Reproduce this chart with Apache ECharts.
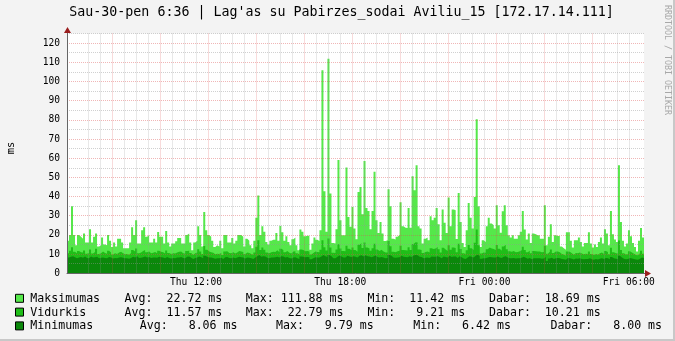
<!DOCTYPE html>
<html>
<head>
<meta charset="utf-8">
<script src="https://cdn.jsdelivr.net/npm/echarts@6/dist/echarts.min.js"></script>
<style>
html,body{margin:0;padding:0;background:#F3F3F3;}
#c{width:675px;height:341px;}
</style>
</head>
<body>
<div id="c"></div>
<script>
// ---- data ----
const titleText = "Sau-30-pen 6:36 | Lag'as su Pabirzes_sodai Aviliu_15 [172.17.14.111]";
const yAxisName = "ms";
const watermark = "RRDTOOL / TOBI OETIKER";
// time in minutes from Thu 00:00, 5-minute steps
const startMinute = 398;
const stepMinute = 5;
const xLabelValues = [720, 1080, 1440, 1800];
const xLabelTexts = ["Thu 12:00", "Thu 18:00", "Fri 00:00", "Fri 06:00"];
const yLabelValues = [0, 10, 20, 30, 40, 50, 60, 70, 80, 90, 100, 110, 120];

const maksimumas = [
  17, 20, 35, 20, 14.6, 20, 19, 18, 20.7, 16, 16, 23, 16, 19, 20.7, 14, 14.6, 18.6, 15, 14.6,
  20, 17, 13.7, 16, 14, 18, 18, 16, 13, 13, 13, 16, 24, 20, 27.6, 15.5, 15.5, 22.4, 24, 19,
  20, 16, 16, 18, 16, 21.5, 19, 19, 15.5,
  22, 16, 14, 15.5, 15.5, 16.7, 18.4, 18.4, 15.5, 15.5, 20, 20.7, 16, 12, 16, 17, 24.5, 20, 14, 32,
  22.4, 20, 19, 17, 13.7, 14.6, 14, 17, 13, 20, 20, 16, 16, 18.4, 15.5, 17, 20, 20, 19, 14,
  18, 17, 14.6, 13, 17, 29, 40.5, 20, 24.5,
  21.6, 16.3, 15, 17, 17.5, 17.5, 21, 17, 24.7, 21.4, 17, 19.3, 16.3, 14.6, 17.7, 18.6, 14.6, 12, 22.8, 21.6,
  19.3, 19.6, 19.6, 12.3, 15.5, 18.6, 17.5, 16.9, 22.4, 105.9, 42.8, 21.6, 111.88, 41.6, 15.8, 15.5, 23, 59, 27.7, 19.8,
  19.8, 55.1, 29.4, 24.2, 34.6, 23.3, 17.7, 42.4, 45,
  30.8, 58.6, 34, 32.5, 23, 32.5, 52.9, 27.6, 21, 26.8, 20.7, 16.9, 17.2, 43.8, 35, 18, 17.6, 19, 20, 37,
  24.5, 23.8, 23.6, 34, 23.8, 50.6, 43.3, 56.3, 24.5, 23.3, 15.5, 18, 18.6, 17.2, 29.7, 27.6, 28.9, 34, 25.6, 17.2,
  33.2, 26.3, 21, 39.5, 24.5, 33.2, 32.9, 17.9,
  41.9, 26.8, 15.8, 13.7, 22.4, 36.7, 29, 23.3, 39.8, 80.3, 35, 13.7, 17.2, 16.3, 24.5, 28.9, 25.9, 25, 23.3, 35.5,
  25, 21.2, 32.3, 35.5, 25, 19.8, 18.6, 19.8, 18, 18, 19.8, 21.6, 32.5, 22.8, 17.6, 20.7, 15.8, 20.7, 20.3, 19.8,
  19.8, 18, 18, 35.5, 14.6, 19, 25.6, 16.3, 19.8,
  19.5, 19.5, 14, 13, 12.3, 21.4, 21.4, 17, 13.4, 17.2, 17.2, 18.6, 16.3, 14, 15.8, 15.8, 21.4, 15.5, 13.4, 15,
  13.7, 16.3, 18.6, 15.5, 23, 20.7, 14.6, 32.5, 20.3, 17.6, 16.3, 56.3, 26.8, 17, 14, 15.5, 22.4, 19.3, 15.8, 13.7,
  11.42, 17, 23.6, 18.69
];
const vidurkis = [
  10.5, 11.8, 13.6, 11.2, 10.4, 11.6, 11.0, 10.8, 11.9, 10.2, 10.6, 12.4, 10.3, 11.1, 12.8, 10.1, 10.4, 11.3, 10.6, 10.2,
  11.7, 10.9, 9.8, 10.5, 10.1, 10.9, 11.2, 10.4, 9.9, 10.0, 9.7, 10.6, 12.1, 11.4, 12.9, 10.5, 10.8, 11.6, 12.2, 11.0,
  11.3, 10.4, 10.7, 11.1, 10.5, 11.8, 11.2, 11.0, 10.3,
  11.9, 10.6, 10.0, 10.4, 10.3, 10.8, 11.2, 11.4, 10.5, 10.3, 11.6, 11.8, 10.6, 9.6, 10.5, 10.9, 12.6, 11.4, 10.1, 14.2,
  12.3, 11.3, 11.0, 10.7, 9.9, 10.2, 10.0, 10.7, 9.6, 11.4, 11.5, 10.6, 10.4, 11.0, 10.3, 10.8, 11.6, 11.3, 11.1, 10.0,
  10.9, 10.6, 10.1, 9.7, 10.8, 13.8, 17.2, 12.1, 13.4,
  12.3, 10.8, 10.5, 11.0, 11.2, 11.1, 12.0, 11.0, 12.8, 12.1, 11.0, 11.6, 10.7, 10.3, 11.3, 11.5, 10.4, 9.9, 12.4, 12.1,
  11.5, 11.6, 11.4, 9.8, 10.6, 11.4, 11.1, 11.0, 12.3, 17.2, 13.6, 11.9, 18.1, 13.4, 10.7, 10.6, 12.4, 15.1, 12.9, 11.6,
  11.5, 14.3, 12.8, 12.0, 13.5, 12.2, 11.2, 14.9, 15.6,
  13.2, 16.1, 13.4, 12.9, 11.8, 13.0, 15.4, 12.4, 11.6, 12.3, 11.4, 10.8, 10.9, 16.8, 14.1, 11.2, 11.0, 11.5, 11.7, 14.4,
  12.2, 12.0, 11.9, 13.6, 12.1, 15.3, 16.2, 16.0, 12.4, 12.2, 10.6, 11.1, 11.3, 10.9, 13.0, 12.7, 12.9, 13.7, 12.5, 10.9,
  13.3, 12.4, 11.6, 14.6, 12.3, 13.5, 13.2, 11.0,
  15.4, 12.7, 10.5, 10.1, 12.0, 14.8, 13.1, 12.2, 15.9, 22.79, 14.6, 10.3, 10.9, 10.7, 12.6, 13.4, 12.9, 12.7, 12.2, 14.7,
  12.8, 11.8, 14.0, 14.9, 12.6, 11.5, 11.2, 11.6, 11.0, 11.1, 11.5, 12.0, 13.9, 12.1, 11.0, 11.7, 10.4, 11.6, 11.5, 11.3,
  11.4, 11.0, 11.1, 14.4, 10.2, 11.2, 12.4, 10.6, 11.3,
  11.3, 11.0, 10.0, 9.8, 9.21, 11.4, 11.2, 10.5, 9.7, 10.6, 10.5, 10.8, 10.3, 9.9, 10.2, 10.1, 11.3, 10.0, 9.6, 10.1,
  9.7, 10.4, 10.9, 10.0, 11.6, 11.1, 9.9, 13.3, 11.0, 10.5, 10.3, 17.1, 12.2, 10.4, 9.8, 10.1, 11.5, 10.8, 10.2, 9.6,
  9.4, 10.4, 11.8, 10.21
];
const minimumas = [
  8.2, 8.6, 8.9, 8.4, 7.9, 8.3, 8.5, 8.1, 8.7, 8.0, 7.8, 8.8, 8.2, 8.4, 8.6, 7.9, 8.1, 8.3, 8.0, 7.8,
  8.5, 8.2, 7.7, 8.0, 7.9, 8.3, 8.4, 8.1, 7.8, 7.9, 7.6, 8.0, 8.6, 8.3, 8.9, 8.0, 8.1, 8.4, 8.7, 8.2,
  8.5, 8.0, 8.2, 8.3, 8.1, 8.6, 8.4, 8.2, 7.9,
  8.5, 8.0, 7.7, 8.0, 7.9, 8.2, 8.3, 8.5, 8.0, 7.9, 8.6, 8.7, 8.1, 7.4, 8.0, 8.2, 8.8, 8.4, 7.8, 9.2,
  8.6, 8.3, 8.2, 8.0, 7.6, 7.9, 7.8, 8.1, 7.5, 8.4, 8.5, 8.0, 7.9, 8.3, 7.9, 8.2, 8.6, 8.4, 8.3, 7.7,
  8.2, 8.1, 7.8, 7.5, 8.2, 8.9, 9.5, 8.6, 8.9,
  8.7, 8.1, 7.9, 8.2, 8.3, 8.4, 8.6, 8.2, 8.9, 8.7, 8.2, 8.5, 8.0, 7.7, 8.3, 8.4, 7.8, 7.5, 8.8, 8.6,
  8.4, 8.5, 8.4, 7.3, 7.9, 8.4, 8.3, 8.2, 8.7, 9.5, 8.9, 8.5, 9.6, 8.9, 7.9, 7.8, 8.6, 9.3, 8.8, 8.3,
  8.3, 9.1, 8.7, 8.5, 8.9, 8.6, 8.2, 9.2, 9.4,
  8.8, 9.4, 8.9, 8.8, 8.4, 8.7, 9.3, 8.5, 8.2, 8.5, 8.2, 7.9, 8.0, 9.6, 9.1, 8.2, 8.1, 8.3, 8.4, 9.2,
  8.6, 8.5, 8.4, 8.9, 8.5, 9.3, 9.5, 9.4, 8.6, 8.5, 7.8, 8.1, 8.2, 8.0, 8.7, 8.6, 8.6, 8.9, 8.5, 7.9,
  8.8, 8.5, 8.2, 9.1, 8.5, 8.8, 8.7, 8.0,
  8.9, 8.4, 7.7, 7.4, 8.2, 8.9, 8.6, 8.3, 9.1, 9.79, 8.9, 7.6, 7.9, 7.8, 8.3, 8.5, 8.4, 8.3, 8.2, 8.8,
  8.3, 8.0, 8.6, 8.9, 8.3, 7.9, 7.8, 8.0, 7.7, 7.8, 7.9, 8.1, 8.6, 8.1, 7.6, 8.0, 7.3, 7.9, 7.9, 7.8,
  7.8, 7.6, 7.7, 8.5, 6.42, 7.7, 8.1, 7.4, 7.8,
  8.0, 7.9, 7.4, 7.3, 7.1, 8.0, 7.9, 7.6, 7.2, 7.7, 7.6, 7.8, 7.5, 7.3, 7.4, 7.4, 7.9, 7.3, 7.1, 7.4,
  7.2, 7.6, 7.8, 7.4, 8.0, 7.9, 7.3, 8.5, 7.8, 7.6, 7.5, 9.2, 8.2, 7.6, 7.3, 7.4, 8.0, 7.7, 7.5, 7.2,
  7.0, 7.6, 8.2, 8.00
];

const legendNames = ["Maksimumas", "Vidurkis", "Minimumas"];
const legendStats = [
  ["Avg:  22.72 ms", "Max: 111.88 ms", "Min:  11.42 ms", "Dabar:  18.69 ms"],
  ["Avg:  11.57 ms", "Max:  22.79 ms", "Min:   9.21 ms", "Dabar:  10.21 ms"],
  ["Avg:   8.06 ms", "Max:   9.79 ms", "Min:   6.42 ms", "Dabar:   8.00 ms"]
];

// ---- styling ----
const colors = ["#55E84A", "#1FBE18", "#0B880B"];
const FONT = "'DejaVu Sans Mono', monospace";
const gridGray = "rgba(150,150,150,0.45)";
const gridRed = "rgba(220,80,80,0.42)";
const statCols = [[124.6, 245.8, 367.4, 489], [124.6, 245.8, 367.4, 489], [139.8, 276, 413.2, 550.4]];
const rowY = [298.8, 312.6, 326.4];

const xStart = startMinute;
const xEnd = startMinute + maksimumas.length * stepMinute;
const xGridTicks = [];
for (let m = Math.ceil(xStart / 30) * 30; m < xEnd; m += 30) xGridTicks.push(m);
// colour cycle so every 2 hours is red
const firstIdx = xGridTicks[0] / 30;
const xLineColors = [0, 1, 2, 3].map(k => ((firstIdx + k) % 4 === 0) ? gridRed : gridGray);

function toPoints(arr) {
  const pts = arr.map((v, i) => [startMinute + i * stepMinute, v]);
  pts.push([startMinute + arr.length * stepMinute, arr[arr.length - 1]]);
  return pts;
}

const chart = echarts.init(document.getElementById('c'), null, {renderer: 'canvas'});

const graphics = [];
graphics.push({type: 'rect', shape: {x: 673, y: 0, width: 2, height: 341}, style: {fill: '#C8C8C8'}, silent: true});
graphics.push({type: 'rect', shape: {x: 0, y: 339, width: 675, height: 2}, style: {fill: '#C8C8C8'}, silent: true});
graphics.push({type: 'text', x: 341.5, y: 12.5, style: {text: titleText, font: "13.3px " + FONT, fill: '#000', align: 'center', verticalAlign: 'middle'}});
graphics.push({type: 'text', x: 11, y: 148, rotation: Math.PI / 2, style: {text: yAxisName, font: "10.4px " + FONT, fill: '#000', align: 'center', verticalAlign: 'middle'}});
graphics.push({type: 'text', x: 667.5, y: 60, rotation: -Math.PI / 2, style: {text: watermark, font: "8.3px " + FONT, fill: '#A8A8A8', align: 'center', verticalAlign: 'middle'}});
graphics.push({type: 'line', shape: {x1: 67.5, y1: 34, x2: 67.5, y2: 30}, style: {stroke: '#666', lineWidth: 1}});
graphics.push({type: 'polygon', shape: {points: [[64, 33], [71, 33], [67.5, 27]]}, style: {fill: '#9A1E1E'}});
graphics.push({type: 'line', shape: {x1: 644, y1: 273.5, x2: 648, y2: 273.5}, style: {stroke: '#666', lineWidth: 1}});
graphics.push({type: 'polygon', shape: {points: [[645, 270], [645, 277], [651, 273.5]]}, style: {fill: '#9A1E1E'}});
for (let r = 0; r < 3; r++) {
  graphics.push({type: 'rect', shape: {x: 15.5, y: rowY[r] - 4.5, width: 8, height: 8}, style: {fill: colors[r], stroke: '#000', lineWidth: 1}});
  graphics.push({type: 'text', x: 30.3, y: rowY[r], style: {text: legendNames[r], font: "11.6px " + FONT, fill: '#000', verticalAlign: 'middle'}});
  for (let c = 0; c < 4; c++) {
    graphics.push({type: 'text', x: statCols[r][c], y: rowY[r], style: {text: legendStats[r][c], font: "11.6px " + FONT, fill: '#000', verticalAlign: 'middle'}});
  }
}

const option = {
  animation: false,
  backgroundColor: '#F3F3F3',
  grid: {left: 67, top: 33.5, width: 577, height: 239.8, show: true, backgroundColor: '#FFFFFF', borderWidth: 0},
  xAxis: {
    type: 'value', min: xStart, max: xEnd, z: 10,
    axisLine: {show: true, onZero: false, lineStyle: {color: '#666', width: 1}},
    axisTick: {show: false, customValues: xGridTicks},
    axisLabel: {
      customValues: xLabelValues,
      formatter: v => xLabelTexts[xLabelValues.indexOf(v)],
      fontFamily: FONT, fontSize: 9.6, color: '#000', margin: 4
    },
    splitLine: {show: true, showMinLine: false, showMaxLine: false, lineStyle: {color: xLineColors, type: [1, 1], width: 1}}
  },
  yAxis: {
    type: 'value', min: 0, max: 125, interval: 5, z: 10,
    axisLine: {show: true, lineStyle: {color: '#666', width: 1}},
    axisTick: {show: false},
    axisLabel: {customValues: yLabelValues, fontFamily: FONT, fontSize: 9.6, color: '#000', margin: 7},
    splitLine: {show: true, lineStyle: {color: [gridRed, gridGray], type: [1, 1], width: 1}}
  },
  series: [maksimumas, vidurkis, minimumas].map((arr, k) => ({
    name: legendNames[k], type: 'line', step: 'end', data: toPoints(arr),
    showSymbol: false, symbol: 'none', silent: true,
    lineStyle: {width: 0}, areaStyle: {color: colors[k], opacity: 1}, z: 2 + k
  })),
  graphic: {elements: graphics}
};
chart.setOption(option);
</script>
</body>
</html>
